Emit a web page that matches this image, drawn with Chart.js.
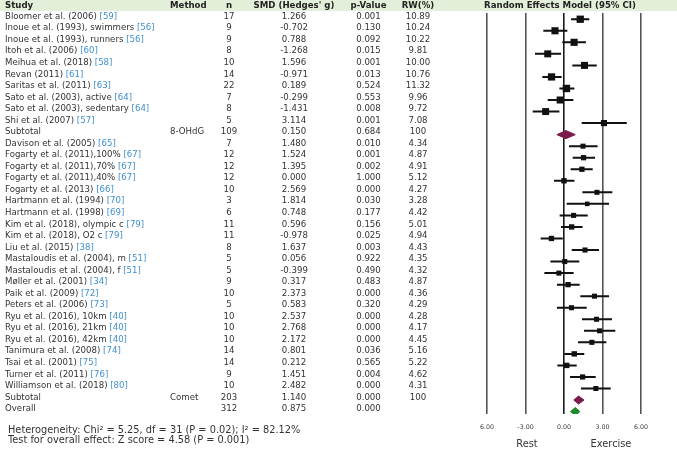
<!DOCTYPE html>
<html>
<head>
<meta charset="utf-8">
<script src="https://cdn.jsdelivr.net/npm/chart.js@4.4.1/dist/chart.umd.min.js"></script>
<style>
html, body { margin: 0; padding: 0; background: #fff; }
#wrap { position: relative; width: 677px; height: 450px; overflow: hidden;
        font-family: "DejaVu Sans", Verdana, sans-serif; color: #333; }
#headband { position: absolute; left: 0; top: 0; width: 677px; height: 11px; background: #e4efd9; }
#chart { position: absolute; left: 0; top: 0; }
.t { position: absolute; font-size: 8.6px; line-height: 11px; white-space: nowrap; }
.mid { transform: translateX(-50%); }
.hd { font-weight: bold; color: #222; }
.ref { color: #3f8fcf; }
.foot { position: absolute; font-size: 9.8px; line-height: 11px; white-space: nowrap; color: #333; }
</style>
</head>
<body>
<div id="wrap">
  <div id="headband"></div>
  <canvas id="chart" width="677" height="450"></canvas>
</div>
<script>
// Forest plot: exercise vs rest, SMD (Hedges' g), random effects

const rowLabels = [
  'Bloomer et al. (2006) [59]', 'Inoue et al. (1993), swimmers [56]', 'Inoue et al. (1993), runners [56]',
  'Itoh et al. (2006) [60]', 'Meihua et al. (2018) [58]', 'Revan (2011) [61]', 'Saritas et al. (2011) [63]',
  'Sato et al. (2003), active [64]', 'Sato et al. (2003), sedentary [64]', 'Shi et al. (2007) [57]',
  'Subtotal',
  'Davison et al. (2005) [65]', 'Fogarty et al. (2011),100% [67]', 'Fogarty et al. (2011),70% [67]',
  'Fogarty et al. (2011),40% [67]', 'Fogarty et al. (2013) [66]', 'Hartmann et al. (1994) [70]',
  'Hartmann et al. (1998) [69]', 'Kim et al. (2018), olympic c [79]', 'Kim et al. (2018), O2 c [79]',
  'Liu et al. (2015) [38]', 'Mastaloudis et al. (2004), m [51]', 'Mastaloudis et al. (2004), f [51]',
  'Møller et al. (2001) [34]', 'Paik et al. (2009) [72]', 'Peters et al. (2006) [73]',
  'Ryu et al. (2016), 10km [40]', 'Ryu et al. (2016), 21km [40]', 'Ryu et al. (2016), 42km [40]',
  'Tanimura et al. (2008) [74]', 'Tsai et al. (2001) [75]', 'Turner et al. (2011) [76]',
  'Williamson et al. (2018) [80]',
  'Subtotal', 'Overall'
];
const methodLabels = { 10: '8-OHdG', 33: 'Comet' };
const nValues = [17, 9, 9, 8, 10, 14, 22, 7, 8, 5, 109,
  7, 12, 12, 12, 10, 3, 6, 11, 11, 8, 5, 5, 9, 10, 5, 10, 10, 10, 14, 14, 9, 10, 203, 312];
const smdValues = [1.266, -0.702, 0.788, -1.268, 1.596, -0.971, 0.189, -0.299, -1.431, 3.114, 0.150,
  1.480, 1.524, 1.395, 0.000, 2.569, 1.814, 0.748, 0.596, -0.978, 1.637, 0.056, -0.399, 0.317,
  2.373, 0.583, 2.537, 2.768, 2.172, 0.801, 0.212, 1.451, 2.482, 1.140, 0.875];
const pValues = [0.001, 0.130, 0.092, 0.015, 0.001, 0.013, 0.524, 0.553, 0.008, 0.001, 0.684,
  0.010, 0.001, 0.002, 1.000, 0.000, 0.030, 0.177, 0.156, 0.025, 0.003, 0.922, 0.490, 0.483,
  0.000, 0.320, 0.000, 0.000, 0.000, 0.036, 0.565, 0.004, 0.000, 0.000, 0.000];
const rwValues = ['10.89', '10.24', '10.22', '9.81', '10.00', '10.76', '11.32', '9.96', '9.72', '7.08', '100',
  '4.34', '4.87', '4.91', '5.12', '4.27', '3.28', '4.42', '5.01', '4.94', '4.43', '4.35', '4.32', '4.87',
  '4.36', '4.29', '4.28', '4.17', '4.45', '5.16', '5.22', '4.62', '4.31', '100', ''];
// 95% CI ends
const ciLow = [0.55, -1.61, -0.13, -2.26, 0.65, -1.69, -0.36, -1.27, -2.44, 1.38, -0.55,
  0.39, 0.68, 0.52, -0.78, 1.43, 0.21, -0.34, -0.23, -1.82, 0.60, -1.06, -1.53, -0.55,
  1.27, -0.55, 1.40, 1.56, 1.09, 0.03, -0.52, 0.47, 1.32, 0.76, 0.51];
const ciHigh = [1.97, 0.26, 1.71, -0.23, 2.55, -0.18, 0.81, 0.73, -0.36, 4.89, 0.88,
  2.62, 2.42, 2.24, 0.81, 3.77, 3.51, 1.85, 1.45, -0.10, 2.73, 1.19, 0.75, 1.22,
  3.51, 1.77, 3.74, 4.00, 3.30, 1.58, 0.99, 2.47, 3.64, 1.56, 1.24];
const xTickValues = [-6, -3, 0, 3, 6];
const xTickLabels = ['6.00', '-3.00', '0.00', '3.00', '6.00'];
const headers = ['Study', 'Method', 'n', "SMD (Hedges' g)", 'p-Value', 'RW(%)', 'Random Effects Model (95% CI)'];

const kind = rowLabels.map(l => l === 'Subtotal' ? 'sub' : (l === 'Overall' ? 'overall' : 'study'));

// whiskers as one broken line
const whiskers = [];
const squares = [];
const squareR = [];
kind.forEach((k, i) => {
  if (k !== 'study') return;
  whiskers.push({ x: ciLow[i], y: i }, { x: ciHigh[i], y: i }, { x: null, y: null });
  squares.push({ x: smdValues[i], y: i });
  // square side grows with sqrt of weight; rect side = radius * sqrt(2)
  squareR.push((1.2 + 1.85 * Math.sqrt(parseFloat(rwValues[i]))) / Math.SQRT2);
});
const DH = 0.35;
function diamond(i) {
  return [
    { x: ciLow[i], y: i }, { x: smdValues[i], y: i - DH },
    { x: ciHigh[i], y: i }, { x: smdValues[i], y: i + DH }, { x: ciLow[i], y: i }
  ];
}
const diamondSets = [];
kind.forEach((k, i) => {
  if (k === 'study') return;
  const col = k === 'sub' ? '#7b1a4b' : '#1f8a2c';
  diamondSets.push({
    data: diamond(i), borderColor: col, backgroundColor: col, borderWidth: 1,
    fill: 'shape', pointRadius: 0, tension: 0
  });
});

const chart = new Chart(document.getElementById('chart'), {
  type: 'line',
  data: {
    datasets: [
      { data: whiskers, borderColor: '#111', borderWidth: 2, pointRadius: 0, spanGaps: false, fill: false },
      { data: squares, showLine: false, pointStyle: 'rect', pointRadius: squareR,
        pointBackgroundColor: '#111', pointBorderWidth: 0 },
      ...diamondSets
    ]
  },
  options: {
    responsive: false, animation: false, events: [],
    layout: { padding: { left: 487, right: 36, top: 13, bottom: 16 } },
    plugins: { legend: { display: false }, tooltip: { enabled: false } },
    scales: {
      x: {
        type: 'linear', min: -6, max: 6,
        afterBuildTicks: s => { s.ticks = xTickValues.map(v => ({ value: v })); },
        afterFit: s => { s.height = 20; },
        border: { display: false },
        grid: { drawTicks: false, lineWidth: 1.6,
                color: c => c.tick && c.tick.value === 0 ? '#1a1a1a' : '#555' },
        ticks: { padding: 10, color: '#3a3a3a', font: { family: 'DejaVu Sans', size: 6.3 },
                 callback: (v, idx) => xTickLabels[idx] }
      },
      y: { type: 'linear', reverse: true, min: -0.54, max: 34.21, display: false }
    }
  }
});

// table text, rows placed with the chart's own y scale
const wrap = document.getElementById('wrap');
function put(html, x, yc, cls) {
  const d = document.createElement('div');
  d.className = cls;
  d.innerHTML = html;
  d.style.left = x + 'px';
  d.style.top = (yc - 5.4) + 'px';
  wrap.appendChild(d);
  return d;
}
const colX = { study: 5, method: 170, n: 229, smd: 294, p: 368.5, rw: 418, plot: 560 };
put(headers[0], colX.study, 5.5, 't hd');
put(headers[1], colX.method, 5.5, 't hd');
put(headers[2], colX.n, 5.5, 't hd mid');
put(headers[3], colX.smd, 5.5, 't hd mid');
put(headers[4], colX.p, 5.5, 't hd mid');
put(headers[5], colX.rw, 5.5, 't hd mid');
put(headers[6], colX.plot, 5.5, 't hd mid');

const ys = chart.scales.y;
rowLabels.forEach((lab, i) => {
  const yc = ys.getPixelForValue(i) - 3;
  const html = lab.replace(/(\[\d+\])$/, '<span class="ref">$1</span>');
  put(html, colX.study, yc, 't');
  if (methodLabels[i]) put(methodLabels[i], colX.method, yc, 't');
  put(String(nValues[i]), colX.n, yc, 't mid');
  put(smdValues[i].toFixed(3), colX.smd, yc, 't mid');
  put(pValues[i].toFixed(3), colX.p, yc, 't mid');
  if (rwValues[i]) put(rwValues[i], colX.rw, yc, 't mid');
});

put('Heterogeneity: Chi² = 5.25, df = 31 (P = 0.02); I² = 82.12%', 8, 429, 'foot');
put('Test for overall effect: Z score = 4.58 (P = 0.001)', 8, 439.5, 'foot');
put('Rest', 527, 443, 'foot mid');
put('Exercise', 611, 443, 'foot mid');
</script>
</body>
</html>
